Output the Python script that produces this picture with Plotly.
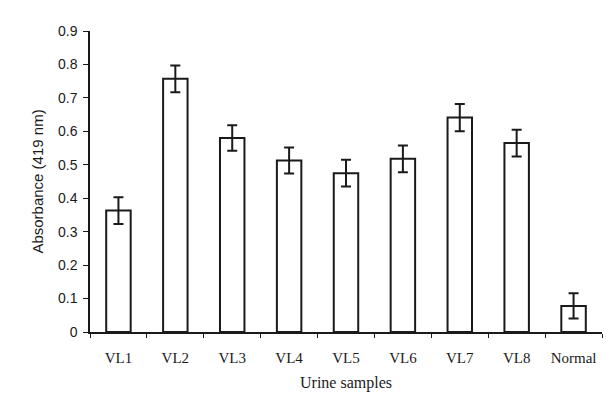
import plotly.graph_objects as go

categories = ["VL1", "VL2", "VL3", "VL4", "VL5", "VL6", "VL7", "VL8", "Normal"]
absorbance = [0.363, 0.757, 0.580, 0.513, 0.475, 0.518, 0.641, 0.565, 0.078]
errors = [0.040, 0.040, 0.038, 0.039, 0.040, 0.040, 0.041, 0.040, 0.038]
y_ticks = [0, 0.1, 0.2, 0.3, 0.4, 0.5, 0.6, 0.7, 0.8, 0.9]
y_tick_labels = ["0", "0.1", "0.2", "0.3", "0.4", "0.5", "0.6", "0.7", "0.8", "0.9"]

ink = "#1a1a1a"

fig = go.Figure(
    go.Bar(
        x=categories,
        y=absorbance,
        marker=dict(color="white", line=dict(color=ink, width=2)),
        error_y=dict(type="data", array=errors, visible=True, color=ink,
                     thickness=2, width=5),
        width=0.43,
    )
)

fig.update_layout(
    width=614,
    height=410,
    margin=dict(l=82, r=20, t=23, b=86),
    paper_bgcolor="white",
    plot_bgcolor="white",
    showlegend=False,
    xaxis=dict(
        showline=True, linecolor=ink, linewidth=1.5,
        ticks="outside", tickson="boundaries", ticklen=4, tickcolor=ink,
        ticklabelstandoff=11,
        tickfont=dict(family="Liberation Serif", size=15, color=ink),
        title=dict(text="Urine samples", font=dict(family="Liberation Serif", size=16, color=ink),
                   standoff=12),
        showgrid=False, zeroline=False,
    ),
    yaxis=dict(
        range=[0, 0.9],
        tickvals=y_ticks, ticktext=y_tick_labels,
        showline=True, linecolor=ink, linewidth=1.5,
        ticks="outside", ticklen=5, tickcolor=ink,
        ticklabelstandoff=3,
        tickfont=dict(family="Liberation Sans", size=14, color=ink),
        title=dict(text="Absorbance (419 nm)", font=dict(family="Liberation Sans", size=15, color=ink),
                   standoff=11),
        showgrid=False, zeroline=False,
    ),
)

fig.write_html("out.html")
